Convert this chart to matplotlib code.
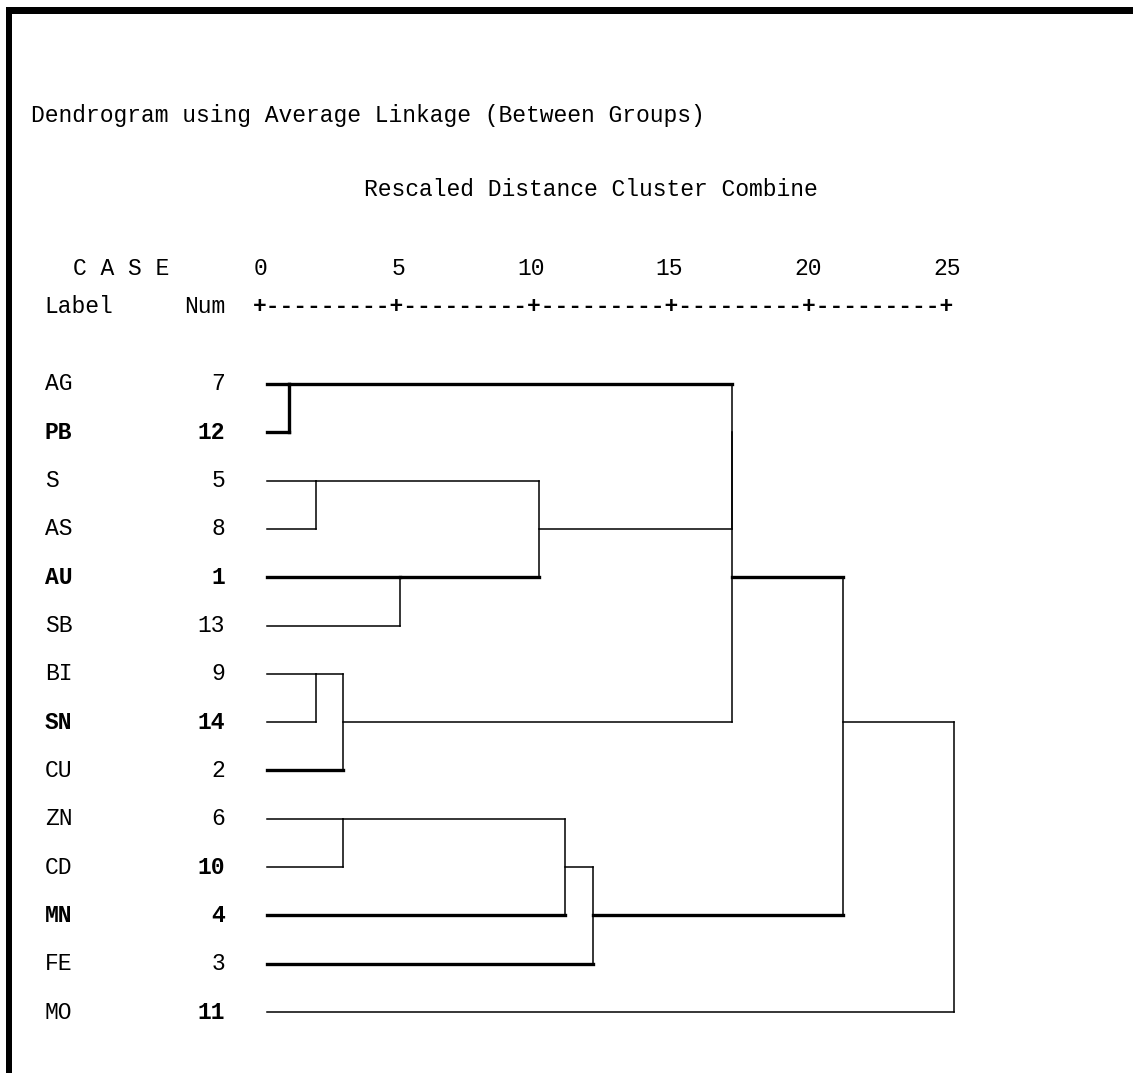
import matplotlib
matplotlib.use("Agg")
import matplotlib.pyplot as plt
from matplotlib.lines import Line2D

# ---------------- data ----------------
labels = ["AG", "PB", "S", "AS", "AU", "SB", "BI", "SN", "CU", "ZN", "CD", "MN", "FE", "MO"]
case_nums = [7, 12, 5, 8, 1, 13, 9, 14, 2, 6, 10, 4, 3, 11]

# merges (scipy-like: leaves 0..13, new clusters numbered 14, 15, ...)
merge_a = [0, 2, 6, 16, 9, 4, 15, 18, 21, 14, 23, 24, 25]
merge_b = [1, 3, 7, 8, 10, 5, 19, 11, 12, 20, 17, 22, 13]
merge_dist = [1.05, 2.0, 2.0, 3.0, 3.0, 5.05, 10.05, 11.0, 12.0, 17.0, 17.0, 21.0, 25.0]

tick_values = [0, 5, 10, 15, 20, 25]

title = "Dendrogram using Average Linkage (Between Groups)"
subtitle = "Rescaled Distance Cluster Combine"
case_header = "C A S E"
label_header = "Label"
num_header = "Num"

# ---------------- style ----------------
W, H = 1133, 1073
FONT = "Liberation Mono"
FS = 16.6
THIN = 1.1
THICK = 2.4
THICK_ROWS = {0, 1, 4, 8, 11, 12}
THICK_MERGES = {0}
BOLD_LABEL_ROWS = {1, 4, 7, 11}
BOLD_NUM_ROWS = {1, 4, 7, 10, 11, 13}
LEAF_GAP = 0.25
CHAR = 0.5  # width of one character column, in distance units


def col(c):
    return (c - 16.5) * CHAR


fig = plt.figure(figsize=(W / 100, H / 100), dpi=100)
fig.patch.set_facecolor("white")

x0_px, x25_px = 260, 954
row0_px, row13_px = 384, 1012
ax = fig.add_axes([x0_px / W, 1 - row13_px / H,
                   (x25_px - x0_px) / W, (row13_px - row0_px) / H])
ax.set_xlim(0, 25)
ax.set_ylim(len(labels) - 1, 0)
ax.axis("off")

row_px = (row13_px - row0_px) / (len(labels) - 1)


def yrow(px):
    return (px - row0_px) / row_px


txt = dict(family=FONT, fontsize=FS, color="black", clip_on=False)

# header texts
ax.text(col(0), yrow(122), title, ha="left", va="baseline", **txt)
ax.text(col(24), yrow(196.5), subtitle, ha="left", va="baseline", **txt)
ax.text(col(3), yrow(275), case_header, ha="left", va="baseline", **txt)
for t in tick_values:
    ax.text(t + CHAR / 2, yrow(275), str(t), ha="right", va="baseline", **txt)
ax.text(col(1), yrow(313), label_header, ha="left", va="baseline", **txt)
ax.text(col(11), yrow(313), num_header, ha="left", va="baseline", **txt)

step = tick_values[1] - tick_values[0]
axis_str = "+" + ("-" * (int(step / CHAR) - 1) + "+") * (len(tick_values) - 1)
ax.text(tick_values[0] - CHAR / 2, yrow(313), axis_str, ha="left", va="baseline",
        fontweight="bold", **txt)

# row labels and case numbers
for i, (lab, num) in enumerate(zip(labels, case_nums)):
    ax.text(col(1), i, lab, ha="left", va="center",
            fontweight="bold" if i in BOLD_LABEL_ROWS else "normal", **txt)
    ax.text(col(14), i, str(num), ha="right", va="center",
            fontweight="bold" if i in BOLD_NUM_ROWS else "normal", **txt)

# dendrogram
n = len(labels)
row = {i: i for i in range(n)}
xpos = {i: LEAF_GAP for i in range(n)}
for k, (a, b, d) in enumerate(zip(merge_a, merge_b, merge_dist)):
    for c in (a, b):
        if d > xpos[c]:
            lw = THICK if row[c] in THICK_ROWS else THIN
            ax.plot([xpos[c], d], [row[c], row[c]], color="black", lw=lw,
                    solid_capstyle="projecting", clip_on=False)
    lw = THICK if k in THICK_MERGES else THIN
    ax.plot([d, d], [row[a], row[b]], color="black", lw=lw,
            solid_capstyle="projecting", clip_on=False)
    new = n + k
    row[new] = (row[a] + row[b]) // 2
    xpos[new] = d

# frame of the original screenshot
fig.add_artist(Line2D([5.7 / W, 1.0], [1 - 10 / H, 1 - 10 / H],
                      transform=fig.transFigure, color="black", lw=7 * 0.72,
                      solid_capstyle="butt"))
fig.add_artist(Line2D([8.7 / W, 8.7 / W], [0.0, 1 - 6.7 / H],
                      transform=fig.transFigure, color="black", lw=6 * 0.72,
                      solid_capstyle="butt"))

fig.savefig("out.png", dpi=100, facecolor="white")
